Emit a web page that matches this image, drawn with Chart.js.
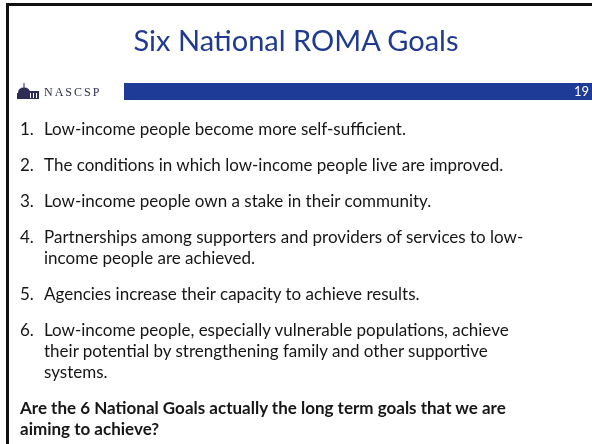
<!DOCTYPE html>
<html>
<head>
<meta charset="utf-8">
<script src="https://cdn.jsdelivr.net/npm/chart.js@4.4.1/dist/chart.umd.min.js"></script>
<style>
  html, body { margin: 0; padding: 0; background: #fff; }
  #slide { position: relative; width: 592px; height: 444px; overflow: hidden; font-family: Lato, "Open Sans", sans-serif; }
  #frame { position: absolute; left: 6px; top: 3px; width: 600px; height: 450px; border-top: 3px solid #111; border-left: 3px solid #111; box-sizing: border-box; }
  #chart { position: absolute; left: 0; top: 0; }
  #title { position: absolute; left: 0; right: 0; top: 20px; margin: 0; text-align: center; font-weight: 400; font-size: 29px; line-height: 40px; color: #1f3a8f; }
  #logo { position: absolute; left: 16px; top: 83px; height: 16px; display: flex; align-items: flex-end; }
  #logo span { font-family: "Liberation Serif", "DejaVu Serif", serif; font-size: 12px; letter-spacing: 2px; color: #2f2f4f; margin-left: 4px; line-height: 13px; }
  #pageNum { position: absolute; right: 3px; top: 83px; font-size: 13px; line-height: 17px; color: #fff; }
  #body { position: absolute; left: 20px; top: 118px; width: 570px; font-size: 17px; line-height: 21px; color: #161616; }
  .item { position: relative; padding-left: 24px; margin-bottom: 15px; }
  .item .num { position: absolute; left: 0; top: 0; }
  .question { font-weight: 700; }
</style>
</head>
<body>
<div id="slide">
  <canvas id="chart" width="592" height="444"></canvas>
  <div id="frame"></div>
  <h1 id="title"></h1>
  <div id="logo">
    <svg width="24" height="16" viewBox="0 0 24 16">
      <rect x="7.5" y="0" width="1" height="5" fill="#2d2d55"/>
      <path d="M2 10 Q2 4.5 8 4.5 Q14 4.5 14 10 Z" fill="#2d2d55"/>
      <rect x="1" y="10" width="14" height="6" fill="#2d2d55"/>
      <rect x="12" y="8" width="11" height="8" fill="#2d2d55"/>
      <rect x="14" y="10" width="1" height="5" fill="#fff"/>
      <rect x="17" y="10" width="1" height="5" fill="#fff"/>
      <rect x="20" y="10" width="1" height="5" fill="#fff"/>
    </svg>
    <span>NASCSP</span>
  </div>
  <div id="pageNum"></div>
  <div id="body"></div>
</div>
<script>
  const slideTitle = 'Six National ROMA Goals';
  const orgName = 'NASCSP';
  const slideNumber = [19];
  const goalNumbers = ['1.', '2.', '3.', '4.', '5.', '6.'];
  const goalLines = [
    ['Low-income people become more self-sufficient.'],
    ['The conditions in which low-income people live are improved.'],
    ['Low-income people own a stake in their community.'],
    ['Partnerships among supporters and providers of services to low-', 'income people are achieved.'],
    ['Agencies increase their capacity to achieve results.'],
    ['Low-income people, especially vulnerable populations, achieve', 'their potential by strengthening family and other supportive', 'systems.']
  ];
  const questionLines = ['Are the 6 National Goals actually the long term goals that we are', 'aiming to achieve?'];

  document.getElementById('title').textContent = slideTitle;
  document.getElementById('pageNum').textContent = slideNumber[0];

  const body = document.getElementById('body');
  goalLines.forEach((lines, i) => {
    const item = document.createElement('div');
    item.className = 'item';
    const num = document.createElement('span');
    num.className = 'num';
    num.textContent = goalNumbers[i];
    item.appendChild(num);
    lines.forEach(line => {
      const d = document.createElement('div');
      d.textContent = line;
      item.appendChild(d);
    });
    body.appendChild(item);
  });
  const q = document.createElement('div');
  q.className = 'question';
  questionLines.forEach(line => {
    const d = document.createElement('div');
    d.textContent = line;
    q.appendChild(d);
  });
  body.appendChild(q);

  // the blue header band is one horizontal bar filled up to the slide number
  const ctx = document.getElementById('chart').getContext('2d');
  new Chart(ctx, {
    type: 'bar',
    data: {
      labels: [orgName],
      datasets: [{
        data: slideNumber,
        backgroundColor: '#1f3b98',
        borderWidth: 0,
        barPercentage: 1,
        categoryPercentage: 1
      }]
    },
    options: {
      indexAxis: 'y',
      responsive: false,
      animation: false,
      layout: { padding: { left: 124, right: 0, top: 83, bottom: 344 } },
      scales: {
        x: { display: false, min: 0, max: slideNumber[0] },
        y: { display: false }
      },
      plugins: { legend: { display: false }, tooltip: { enabled: false }, title: { display: false } }
    }
  });
</script>
</body>
</html>
